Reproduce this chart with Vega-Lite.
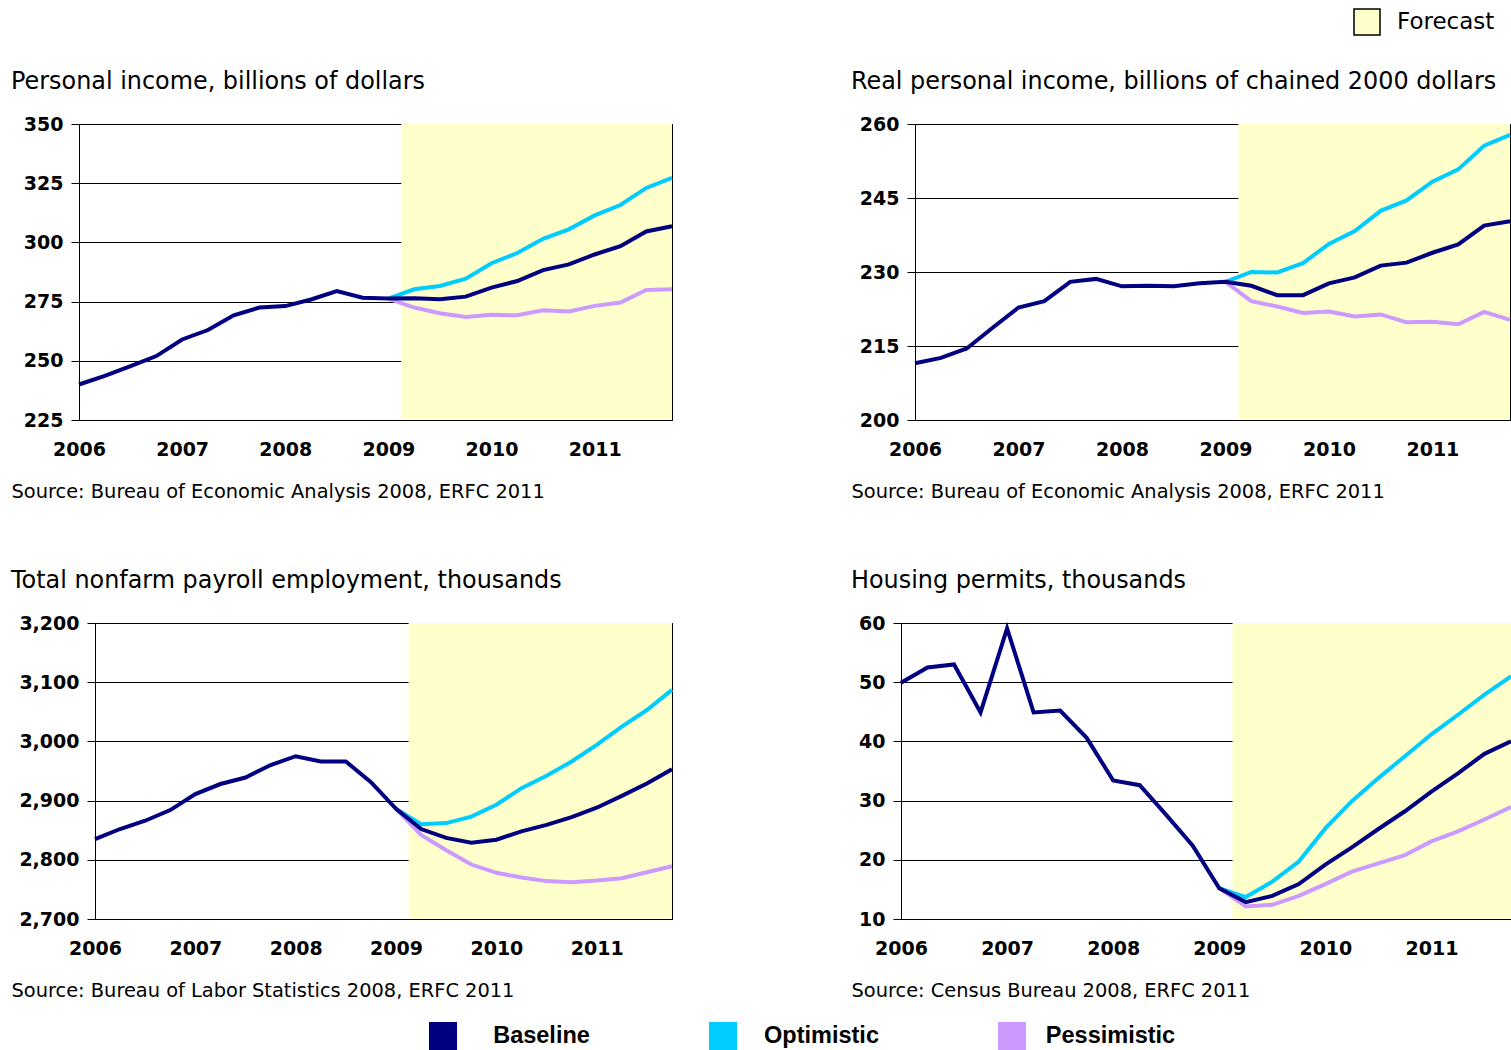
{
"$schema": "https://vega.github.io/schema/vega-lite/v6.json",
"padding": {"left": 10, "top": 8, "right": 0, "bottom": 0},
"background": "white",
"columns": 2,
"align": "none",
"spacing": {"row": 67, "column": 169},
"datasets": {
"fc": [{"x": 2009.125, "xe": 2011.75, "label": "Forecast"}],
"d": [
{"p":"inc","s":"Pessimistic","x":2009.0,"v":276.3},{"p":"inc","s":"Pessimistic","x":2009.25,"v":272.5},{"p":"inc","s":"Pessimistic","x":2009.5,"v":270.1},{"p":"inc","s":"Pessimistic","x":2009.75,"v":268.5},{"p":"inc","s":"Pessimistic","x":2010.0,"v":269.4},{"p":"inc","s":"Pessimistic","x":2010.25,"v":269.2},{"p":"inc","s":"Pessimistic","x":2010.5,"v":271.3},{"p":"inc","s":"Pessimistic","x":2010.75,"v":270.8},{"p":"inc","s":"Pessimistic","x":2011.0,"v":273.2},{"p":"inc","s":"Pessimistic","x":2011.25,"v":274.6},{"p":"inc","s":"Pessimistic","x":2011.5,"v":279.9},{"p":"inc","s":"Pessimistic","x":2011.75,"v":280.2},
{"p":"inc","s":"Optimistic","x":2009.0,"v":276.3},{"p":"inc","s":"Optimistic","x":2009.25,"v":280.2},{"p":"inc","s":"Optimistic","x":2009.5,"v":281.6},{"p":"inc","s":"Optimistic","x":2009.75,"v":284.7},{"p":"inc","s":"Optimistic","x":2010.0,"v":291.2},{"p":"inc","s":"Optimistic","x":2010.25,"v":295.5},{"p":"inc","s":"Optimistic","x":2010.5,"v":301.5},{"p":"inc","s":"Optimistic","x":2010.75,"v":305.5},{"p":"inc","s":"Optimistic","x":2011.0,"v":311.4},{"p":"inc","s":"Optimistic","x":2011.25,"v":315.8},{"p":"inc","s":"Optimistic","x":2011.5,"v":323.0},{"p":"inc","s":"Optimistic","x":2011.75,"v":327.2},
{"p":"inc","s":"Baseline","x":2006.0,"v":240.0},{"p":"inc","s":"Baseline","x":2006.25,"v":243.6},{"p":"inc","s":"Baseline","x":2006.5,"v":247.8},{"p":"inc","s":"Baseline","x":2006.75,"v":252.0},{"p":"inc","s":"Baseline","x":2007.0,"v":259.0},{"p":"inc","s":"Baseline","x":2007.25,"v":263.0},{"p":"inc","s":"Baseline","x":2007.5,"v":269.2},{"p":"inc","s":"Baseline","x":2007.75,"v":272.5},{"p":"inc","s":"Baseline","x":2008.0,"v":273.1},{"p":"inc","s":"Baseline","x":2008.25,"v":275.9},{"p":"inc","s":"Baseline","x":2008.5,"v":279.4},{"p":"inc","s":"Baseline","x":2008.75,"v":276.6},{"p":"inc","s":"Baseline","x":2009.0,"v":276.3},{"p":"inc","s":"Baseline","x":2009.25,"v":276.4},{"p":"inc","s":"Baseline","x":2009.5,"v":276.0},{"p":"inc","s":"Baseline","x":2009.75,"v":277.1},{"p":"inc","s":"Baseline","x":2010.0,"v":280.9},{"p":"inc","s":"Baseline","x":2010.25,"v":283.7},{"p":"inc","s":"Baseline","x":2010.5,"v":288.3},{"p":"inc","s":"Baseline","x":2010.75,"v":290.7},{"p":"inc","s":"Baseline","x":2011.0,"v":294.9},{"p":"inc","s":"Baseline","x":2011.25,"v":298.4},{"p":"inc","s":"Baseline","x":2011.5,"v":304.6},{"p":"inc","s":"Baseline","x":2011.75,"v":306.8},
{"p":"real","s":"Pessimistic","x":2009.0,"v":228.0},{"p":"real","s":"Pessimistic","x":2009.25,"v":224.1},{"p":"real","s":"Pessimistic","x":2009.5,"v":223.0},{"p":"real","s":"Pessimistic","x":2009.75,"v":221.7},{"p":"real","s":"Pessimistic","x":2010.0,"v":222.0},{"p":"real","s":"Pessimistic","x":2010.25,"v":221.0},{"p":"real","s":"Pessimistic","x":2010.5,"v":221.4},{"p":"real","s":"Pessimistic","x":2010.75,"v":219.8},{"p":"real","s":"Pessimistic","x":2011.0,"v":219.9},{"p":"real","s":"Pessimistic","x":2011.25,"v":219.4},{"p":"real","s":"Pessimistic","x":2011.5,"v":221.9},{"p":"real","s":"Pessimistic","x":2011.75,"v":220.3},
{"p":"real","s":"Optimistic","x":2009.0,"v":228.0},{"p":"real","s":"Optimistic","x":2009.25,"v":230.0},{"p":"real","s":"Optimistic","x":2009.5,"v":229.9},{"p":"real","s":"Optimistic","x":2009.75,"v":231.8},{"p":"real","s":"Optimistic","x":2010.0,"v":235.7},{"p":"real","s":"Optimistic","x":2010.25,"v":238.3},{"p":"real","s":"Optimistic","x":2010.5,"v":242.4},{"p":"real","s":"Optimistic","x":2010.75,"v":244.5},{"p":"real","s":"Optimistic","x":2011.0,"v":248.3},{"p":"real","s":"Optimistic","x":2011.25,"v":250.8},{"p":"real","s":"Optimistic","x":2011.5,"v":255.6},{"p":"real","s":"Optimistic","x":2011.75,"v":257.8},
{"p":"real","s":"Baseline","x":2006.0,"v":211.5},{"p":"real","s":"Baseline","x":2006.25,"v":212.6},{"p":"real","s":"Baseline","x":2006.5,"v":214.5},{"p":"real","s":"Baseline","x":2006.75,"v":218.7},{"p":"real","s":"Baseline","x":2007.0,"v":222.8},{"p":"real","s":"Baseline","x":2007.25,"v":224.1},{"p":"real","s":"Baseline","x":2007.5,"v":228.0},{"p":"real","s":"Baseline","x":2007.75,"v":228.6},{"p":"real","s":"Baseline","x":2008.0,"v":227.1},{"p":"real","s":"Baseline","x":2008.25,"v":227.2},{"p":"real","s":"Baseline","x":2008.5,"v":227.1},{"p":"real","s":"Baseline","x":2008.75,"v":227.7},{"p":"real","s":"Baseline","x":2009.0,"v":228.0},{"p":"real","s":"Baseline","x":2009.25,"v":227.2},{"p":"real","s":"Baseline","x":2009.5,"v":225.3},{"p":"real","s":"Baseline","x":2009.75,"v":225.3},{"p":"real","s":"Baseline","x":2010.0,"v":227.7},{"p":"real","s":"Baseline","x":2010.25,"v":228.9},{"p":"real","s":"Baseline","x":2010.5,"v":231.3},{"p":"real","s":"Baseline","x":2010.75,"v":231.9},{"p":"real","s":"Baseline","x":2011.0,"v":233.9},{"p":"real","s":"Baseline","x":2011.25,"v":235.6},{"p":"real","s":"Baseline","x":2011.5,"v":239.4},{"p":"real","s":"Baseline","x":2011.75,"v":240.3},
{"p":"emp","s":"Pessimistic","x":2009.0,"v":2886},{"p":"emp","s":"Pessimistic","x":2009.25,"v":2842},{"p":"emp","s":"Pessimistic","x":2009.5,"v":2816},{"p":"emp","s":"Pessimistic","x":2009.75,"v":2792},{"p":"emp","s":"Pessimistic","x":2010.0,"v":2778},{"p":"emp","s":"Pessimistic","x":2010.25,"v":2770},{"p":"emp","s":"Pessimistic","x":2010.5,"v":2764},{"p":"emp","s":"Pessimistic","x":2010.75,"v":2762},{"p":"emp","s":"Pessimistic","x":2011.0,"v":2765},{"p":"emp","s":"Pessimistic","x":2011.25,"v":2769},{"p":"emp","s":"Pessimistic","x":2011.5,"v":2779},{"p":"emp","s":"Pessimistic","x":2011.75,"v":2789},
{"p":"emp","s":"Optimistic","x":2009.0,"v":2886},{"p":"emp","s":"Optimistic","x":2009.25,"v":2860},{"p":"emp","s":"Optimistic","x":2009.5,"v":2862},{"p":"emp","s":"Optimistic","x":2009.75,"v":2873},{"p":"emp","s":"Optimistic","x":2010.0,"v":2893},{"p":"emp","s":"Optimistic","x":2010.25,"v":2921},{"p":"emp","s":"Optimistic","x":2010.5,"v":2942},{"p":"emp","s":"Optimistic","x":2010.75,"v":2966},{"p":"emp","s":"Optimistic","x":2011.0,"v":2994},{"p":"emp","s":"Optimistic","x":2011.25,"v":3025},{"p":"emp","s":"Optimistic","x":2011.5,"v":3053},{"p":"emp","s":"Optimistic","x":2011.75,"v":3087},
{"p":"emp","s":"Baseline","x":2006.0,"v":2835},{"p":"emp","s":"Baseline","x":2006.25,"v":2852},{"p":"emp","s":"Baseline","x":2006.5,"v":2866},{"p":"emp","s":"Baseline","x":2006.75,"v":2884},{"p":"emp","s":"Baseline","x":2007.0,"v":2911},{"p":"emp","s":"Baseline","x":2007.25,"v":2928},{"p":"emp","s":"Baseline","x":2007.5,"v":2939},{"p":"emp","s":"Baseline","x":2007.75,"v":2960},{"p":"emp","s":"Baseline","x":2008.0,"v":2975},{"p":"emp","s":"Baseline","x":2008.25,"v":2966},{"p":"emp","s":"Baseline","x":2008.5,"v":2966},{"p":"emp","s":"Baseline","x":2008.75,"v":2931},{"p":"emp","s":"Baseline","x":2009.0,"v":2886},{"p":"emp","s":"Baseline","x":2009.25,"v":2852},{"p":"emp","s":"Baseline","x":2009.5,"v":2837},{"p":"emp","s":"Baseline","x":2009.75,"v":2829},{"p":"emp","s":"Baseline","x":2010.0,"v":2834},{"p":"emp","s":"Baseline","x":2010.25,"v":2848},{"p":"emp","s":"Baseline","x":2010.5,"v":2859},{"p":"emp","s":"Baseline","x":2010.75,"v":2872},{"p":"emp","s":"Baseline","x":2011.0,"v":2888},{"p":"emp","s":"Baseline","x":2011.25,"v":2908},{"p":"emp","s":"Baseline","x":2011.5,"v":2929},{"p":"emp","s":"Baseline","x":2011.75,"v":2953},
{"p":"hous","s":"Pessimistic","x":2009.0,"v":15.2},{"p":"hous","s":"Pessimistic","x":2009.25,"v":12.1},{"p":"hous","s":"Pessimistic","x":2009.5,"v":12.4},{"p":"hous","s":"Pessimistic","x":2009.75,"v":13.9},{"p":"hous","s":"Pessimistic","x":2010.0,"v":15.9},{"p":"hous","s":"Pessimistic","x":2010.25,"v":18.0},{"p":"hous","s":"Pessimistic","x":2010.5,"v":19.4},{"p":"hous","s":"Pessimistic","x":2010.75,"v":20.8},{"p":"hous","s":"Pessimistic","x":2011.0,"v":23.1},{"p":"hous","s":"Pessimistic","x":2011.25,"v":24.8},{"p":"hous","s":"Pessimistic","x":2011.5,"v":26.8},{"p":"hous","s":"Pessimistic","x":2011.75,"v":28.9},
{"p":"hous","s":"Optimistic","x":2009.0,"v":15.2},{"p":"hous","s":"Optimistic","x":2009.25,"v":13.7},{"p":"hous","s":"Optimistic","x":2009.5,"v":16.3},{"p":"hous","s":"Optimistic","x":2009.75,"v":19.7},{"p":"hous","s":"Optimistic","x":2010.0,"v":25.3},{"p":"hous","s":"Optimistic","x":2010.25,"v":29.9},{"p":"hous","s":"Optimistic","x":2010.5,"v":33.8},{"p":"hous","s":"Optimistic","x":2010.75,"v":37.5},{"p":"hous","s":"Optimistic","x":2011.0,"v":41.2},{"p":"hous","s":"Optimistic","x":2011.25,"v":44.5},{"p":"hous","s":"Optimistic","x":2011.5,"v":47.9},{"p":"hous","s":"Optimistic","x":2011.75,"v":51.0},
{"p":"hous","s":"Baseline","x":2006.0,"v":49.9},{"p":"hous","s":"Baseline","x":2006.25,"v":52.5},{"p":"hous","s":"Baseline","x":2006.5,"v":53.0},{"p":"hous","s":"Baseline","x":2006.75,"v":44.9},{"p":"hous","s":"Baseline","x":2007.0,"v":59.1},{"p":"hous","s":"Baseline","x":2007.25,"v":44.9},{"p":"hous","s":"Baseline","x":2007.5,"v":45.2},{"p":"hous","s":"Baseline","x":2007.75,"v":40.6},{"p":"hous","s":"Baseline","x":2008.0,"v":33.4},{"p":"hous","s":"Baseline","x":2008.25,"v":32.6},{"p":"hous","s":"Baseline","x":2008.5,"v":27.6},{"p":"hous","s":"Baseline","x":2008.75,"v":22.4},{"p":"hous","s":"Baseline","x":2009.0,"v":15.2},{"p":"hous","s":"Baseline","x":2009.25,"v":12.85},{"p":"hous","s":"Baseline","x":2009.5,"v":13.9},{"p":"hous","s":"Baseline","x":2009.75,"v":15.9},{"p":"hous","s":"Baseline","x":2010.0,"v":19.2},{"p":"hous","s":"Baseline","x":2010.25,"v":22.1},{"p":"hous","s":"Baseline","x":2010.5,"v":25.2},{"p":"hous","s":"Baseline","x":2010.75,"v":28.2},{"p":"hous","s":"Baseline","x":2011.0,"v":31.5},{"p":"hous","s":"Baseline","x":2011.25,"v":34.6},{"p":"hous","s":"Baseline","x":2011.5,"v":37.9},{"p":"hous","s":"Baseline","x":2011.75,"v":40.0}
]
},
"concat": [
{
"width": 593, "height": 296,
"title": {"text": "Personal income, billions of dollars"},
"encoding": {"x": {"field": "x", "type": "quantitative", "scale": {"domain": [2006, 2011.75], "nice": false, "zero": false}, "axis": {"values": [2006, 2007, 2008, 2009, 2010, 2011], "format": "d", "title": "Source: Bureau of Economic Analysis 2008, ERFC 2011", "titleX": -68, "titleY": 77, "titleAlign": "left", "titleBaseline": "alphabetic", "titleAnchor": null}}},
"layer": [
{"data": {"name": "fc"}, "mark": {"type": "rect", "strokeWidth": 0}, "encoding": {"x2": {"field": "xe"}, "fill": {"field": "label", "type": "nominal", "scale": {"domain": ["Forecast"], "range": ["#ffffcc"]}, "legend": {"orient": "none", "legendX": 1274, "legendY": -116, "title": null, "symbolType": "square", "symbolSize": 676, "symbolStrokeColor": "black", "symbolStrokeWidth": 1.5, "labelFont": "DejaVu Sans", "labelFontSize": 23, "labelColor": "black", "labelOffset": 16, "padding": 0, "encode": {"symbols": {"update": {"stroke": {"value": "black"}, "strokeWidth": {"value": 1.5}}}}}}}},
{"data": {"name": "d"}, "transform": [{"filter": "datum.p === 'inc'"}], "mark": {"type": "line", "strokeWidth": 4}, "encoding": {"y": {"field": "v", "type": "quantitative", "scale": {"domain": [225, 350], "nice": false, "zero": false}, "axis": {"values": [225, 250, 275, 300, 325, 350], "format": ",.0f", "title": null}}, "color": {"field": "s", "type": "nominal", "scale": {"domain": ["Baseline", "Optimistic", "Pessimistic"], "range": ["#000080", "#00ccff", "#cc99ff"]}, "legend": {"orient": "none", "legendX": 350, "legendY": 898, "direction": "horizontal", "title": null, "symbolType": "square", "symbolSize": 784, "symbolStrokeWidth": 0, "labelFont": "Liberation Sans", "labelFontSize": 23.5, "labelFontWeight": "bold", "labelColor": "black", "labelAlign": "center", "labelOffset": 84.5, "columnPadding": 119, "padding": 0, "labelLimit": 400, "encode": {"symbols": {"update": {"fill": {"scale": "color", "field": "value"}, "stroke": {"value": "transparent"}}}}}}}}
]
},
{
"width": 595, "height": 296,
"title": {"text": "Real personal income, billions of chained 2000 dollars"},
"encoding": {"x": {"field": "x", "type": "quantitative", "scale": {"domain": [2006, 2011.75], "nice": false, "zero": false}, "axis": {"values": [2006, 2007, 2008, 2009, 2010, 2011], "format": "d", "title": "Source: Bureau of Economic Analysis 2008, ERFC 2011", "titleX": -64, "titleY": 77, "titleAlign": "left", "titleBaseline": "alphabetic", "titleAnchor": null}}},
"layer": [
{"data": {"name": "fc"}, "mark": {"type": "rect", "strokeWidth": 0}, "encoding": {"x2": {"field": "xe"}, "fill": {"field": "label", "type": "nominal", "scale": {"domain": ["Forecast"], "range": ["#ffffcc"]}, "legend": {"orient": "none", "legendX": 1274, "legendY": -116, "title": null, "symbolType": "square", "symbolSize": 676, "symbolStrokeColor": "black", "symbolStrokeWidth": 1.5, "labelFont": "DejaVu Sans", "labelFontSize": 23, "labelColor": "black", "labelOffset": 16, "padding": 0, "encode": {"symbols": {"update": {"stroke": {"value": "black"}, "strokeWidth": {"value": 1.5}}}}}}}},
{"data": {"name": "d"}, "transform": [{"filter": "datum.p === 'real'"}], "mark": {"type": "line", "strokeWidth": 4}, "encoding": {"y": {"field": "v", "type": "quantitative", "scale": {"domain": [200, 260], "nice": false, "zero": false}, "axis": {"values": [200, 215, 230, 245, 260], "format": ",.0f", "title": null}}, "color": {"field": "s", "type": "nominal", "scale": {"domain": ["Baseline", "Optimistic", "Pessimistic"], "range": ["#000080", "#00ccff", "#cc99ff"]}, "legend": {"orient": "none", "legendX": 350, "legendY": 898, "direction": "horizontal", "title": null, "symbolType": "square", "symbolSize": 784, "symbolStrokeWidth": 0, "labelFont": "Liberation Sans", "labelFontSize": 23.5, "labelFontWeight": "bold", "labelColor": "black", "labelAlign": "center", "labelOffset": 84.5, "columnPadding": 119, "padding": 0, "labelLimit": 400, "encode": {"symbols": {"update": {"fill": {"scale": "color", "field": "value"}, "stroke": {"value": "transparent"}}}}}}}}
]
},
{
"hconcat": [
{"data": {"values": []}, "mark": "point", "width": 1, "height": 1, "view": {"stroke": null}},
{
"width": 577, "height": 296,
"title": {"text": "Total nonfarm payroll employment, thousands"},
"encoding": {"x": {"field": "x", "type": "quantitative", "scale": {"domain": [2006, 2011.75], "nice": false, "zero": false}, "axis": {"values": [2006, 2007, 2008, 2009, 2010, 2011], "format": "d", "title": "Source: Bureau of Labor Statistics 2008, ERFC 2011", "titleX": -84, "titleY": 77, "titleAlign": "left", "titleBaseline": "alphabetic", "titleAnchor": null}}},
"layer": [
{"data": {"name": "fc"}, "mark": {"type": "rect", "strokeWidth": 0}, "encoding": {"x2": {"field": "xe"}, "fill": {"field": "label", "type": "nominal", "scale": {"domain": ["Forecast"], "range": ["#ffffcc"]}, "legend": {"orient": "none", "legendX": 1274, "legendY": -116, "title": null, "symbolType": "square", "symbolSize": 676, "symbolStrokeColor": "black", "symbolStrokeWidth": 1.5, "labelFont": "DejaVu Sans", "labelFontSize": 23, "labelColor": "black", "labelOffset": 16, "padding": 0, "encode": {"symbols": {"update": {"stroke": {"value": "black"}, "strokeWidth": {"value": 1.5}}}}}}}},
{"data": {"name": "d"}, "transform": [{"filter": "datum.p === 'emp'"}], "mark": {"type": "line", "strokeWidth": 4}, "encoding": {"y": {"field": "v", "type": "quantitative", "scale": {"domain": [2700, 3200], "nice": false, "zero": false}, "axis": {"values": [2700, 2800, 2900, 3000, 3100, 3200], "format": ",.0f", "title": null}}, "color": {"field": "s", "type": "nominal", "scale": {"domain": ["Baseline", "Optimistic", "Pessimistic"], "range": ["#000080", "#00ccff", "#cc99ff"]}, "legend": {"orient": "none", "legendX": 350, "legendY": 898, "direction": "horizontal", "title": null, "symbolType": "square", "symbolSize": 784, "symbolStrokeWidth": 0, "labelFont": "Liberation Sans", "labelFontSize": 23.5, "labelFontWeight": "bold", "labelColor": "black", "labelAlign": "center", "labelOffset": 84.5, "columnPadding": 119, "padding": 0, "labelLimit": 400, "encode": {"symbols": {"update": {"fill": {"scale": "color", "field": "value"}, "stroke": {"value": "transparent"}}}}}}}}
]
}
],
"spacing": 15,
"bounds": "flush"
},
{
"width": 610, "height": 296,
"title": {"text": "Housing permits, thousands"},
"encoding": {"x": {"field": "x", "type": "quantitative", "scale": {"domain": [2006, 2011.75], "nice": false, "zero": false}, "axis": {"values": [2006, 2007, 2008, 2009, 2010, 2011], "format": "d", "title": "Source: Census Bureau 2008, ERFC 2011", "titleX": -50, "titleY": 77, "titleAlign": "left", "titleBaseline": "alphabetic", "titleAnchor": null}}},
"layer": [
{"data": {"name": "fc"}, "mark": {"type": "rect", "strokeWidth": 0}, "encoding": {"x2": {"field": "xe"}, "fill": {"field": "label", "type": "nominal", "scale": {"domain": ["Forecast"], "range": ["#ffffcc"]}, "legend": {"orient": "none", "legendX": 1274, "legendY": -116, "title": null, "symbolType": "square", "symbolSize": 676, "symbolStrokeColor": "black", "symbolStrokeWidth": 1.5, "labelFont": "DejaVu Sans", "labelFontSize": 23, "labelColor": "black", "labelOffset": 16, "padding": 0, "encode": {"symbols": {"update": {"stroke": {"value": "black"}, "strokeWidth": {"value": 1.5}}}}}}}},
{"data": {"name": "d"}, "transform": [{"filter": "datum.p === 'hous'"}], "mark": {"type": "line", "strokeWidth": 4}, "encoding": {"y": {"field": "v", "type": "quantitative", "scale": {"domain": [10, 60], "nice": false, "zero": false}, "axis": {"values": [10, 20, 30, 40, 50, 60], "format": ",.0f", "title": null}}, "color": {"field": "s", "type": "nominal", "scale": {"domain": ["Baseline", "Optimistic", "Pessimistic"], "range": ["#000080", "#00ccff", "#cc99ff"]}, "legend": {"orient": "none", "legendX": 350, "legendY": 898, "direction": "horizontal", "title": null, "symbolType": "square", "symbolSize": 784, "symbolStrokeWidth": 0, "labelFont": "Liberation Sans", "labelFontSize": 23.5, "labelFontWeight": "bold", "labelColor": "black", "labelAlign": "center", "labelOffset": 84.5, "columnPadding": 119, "padding": 0, "labelLimit": 400, "encode": {"symbols": {"update": {"fill": {"scale": "color", "field": "value"}, "stroke": {"value": "transparent"}}}}}}}}
]
}
],
"config": {
"view": {"stroke": "black", "strokeWidth": 1},
"axis": {"domainColor": "black", "tickColor": "black", "gridColor": "black", "gridOpacity": 1, "labelColor": "black", "labelFont": "DejaVu Sans", "labelFontWeight": "bold", "labelFontSize": 19, "titleColor": "black", "titleFont": "DejaVu Sans", "titleFontWeight": "normal", "titleFontSize": 19.4, "labelFlush": false, "labelOverlap": false, "zindex": 1},
"axisX": {"grid": false, "ticks": false, "tickSize": 0, "labelPadding": 20},
"axisY": {"grid": true, "tickSize": 8, "labelPadding": 8},
"title": {"font": "DejaVu Sans", "fontSize": 23.9, "fontWeight": "normal", "color": "black", "anchor": "start", "baseline": "alphabetic", "offset": 21}
}
}
